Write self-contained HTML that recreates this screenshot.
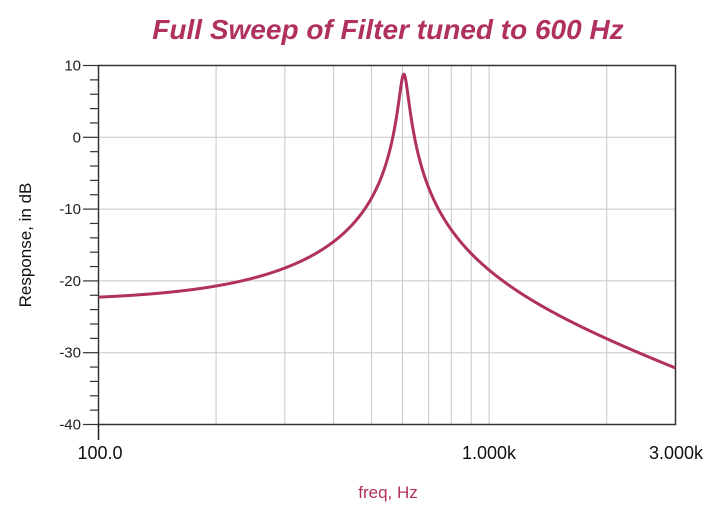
<!DOCTYPE html>
<html><head><meta charset="utf-8"><style>
html,body{margin:0;padding:0;background:#fff;width:716px;height:516px;overflow:hidden}
</style></head><body>
<svg width="716" height="516" xmlns="http://www.w3.org/2000/svg" font-family="Liberation Sans, sans-serif">
<text x="388" y="39" text-anchor="middle" font-size="28" font-weight="bold" font-style="italic" fill="#b0305f">Full Sweep of Filter tuned to 600 Hz</text>
<g id="grid" stroke="#c8c8c8" stroke-width="1"></g>
<g id="ticks" stroke="#333" stroke-width="1.2"></g>
<rect x="98.5" y="65.5" width="577" height="359" fill="none" stroke="#333" stroke-width="1.5"/>
<line x1="98.5" y1="424.5" x2="98.5" y2="440" stroke="#222" stroke-width="1.5"/>
<g id="ylab" font-size="15" fill="#222" text-anchor="end"></g>
<text x="100" y="459" text-anchor="middle" font-size="18" fill="#111">100.0</text>
<text x="489" y="459" text-anchor="middle" font-size="18" fill="#111">1.000k</text>
<text x="676" y="459" text-anchor="middle" font-size="18" fill="#111">3.000k</text>
<text x="388" y="498" text-anchor="middle" font-size="17" fill="#b0305f">freq, Hz</text>
<text transform="translate(31,245) rotate(-90)" text-anchor="middle" font-size="17" fill="#111">Response, in dB</text>
<path id="curve" fill="none" stroke="#b0305f" stroke-width="3" stroke-linejoin="round"/>
</svg>
<script>
var L=98.5,R=675.5,T=65.5,B=424.5;
function X(f){return L+(R-L)*Math.log10(f/100)/Math.log10(30);}
function Y(d){return T+(10-d)*(B-T)/50;}
var ns="http://www.w3.org/2000/svg";
function el(p,t,a){var e=document.createElementNS(ns,t);for(var k in a)e.setAttribute(k,a[k]);p.appendChild(e);return e;}
var g=document.getElementById('grid');
[200,300,400,500,600,700,800,900,1000,2000].forEach(function(f){var x=X(f);el(g,'line',{x1:x,y1:T,x2:x,y2:B});});
for(var d=0;d>-40;d-=10){var y=Y(d);el(g,'line',{x1:L,y1:y,x2:R,y2:y});}
var tk=document.getElementById('ticks'),yl=document.getElementById('ylab');
for(var d=10;d>=-40;d-=2){var y=Y(d);var maj=(d%10===0);el(tk,'line',{x1:maj?83:90,y1:y,x2:L,y2:y});
 if(maj){var t=el(yl,'text',{x:81,y:y+5});t.textContent=d;}}
var K=Math.pow(10,-22.8/20),b=0.62,Q=20,f0=605,pts=[];
for(var i=0;i<=1200;i++){var f=100*Math.pow(30,i/1200),x=f/f0;
 var nr=1,ni=x/b,dr=1-x*x,di=x/Q;
 var m=K*Math.sqrt(nr*nr+ni*ni)/Math.sqrt(dr*dr+di*di);
 pts.push(X(f).toFixed(2)+','+Y(20*Math.log10(m)).toFixed(2));}
document.getElementById('curve').setAttribute('d','M'+pts.join('L'));
</script>
</body></html>
